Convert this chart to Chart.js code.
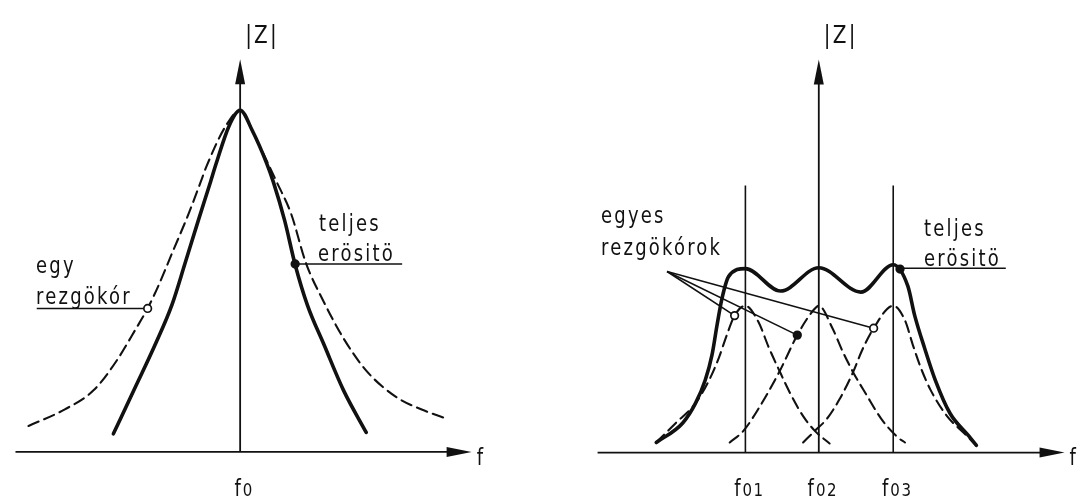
<!DOCTYPE html>
<html>
<head>
<meta charset="utf-8">
<script src="https://cdn.jsdelivr.net/npm/chart.js@4.4.1/dist/chart.umd.min.js"></script>
<style>
  html, body { margin: 0; padding: 0; background: #fff; }
  #wrap { position: relative; width: 1078px; height: 499px; overflow: hidden; }
  canvas { position: absolute; top: 0; }
</style>
</head>
<body>
<div id="wrap">
  <canvas id="leftChart" width="540" height="499" style="left:0"></canvas>
  <canvas id="rightChart" width="538" height="499" style="left:540px"></canvas>
</div>
<script>
// ---- bal oldal: egy rezgőkör vs. teljes erősítő (x: f - f0, y: |Z| / |Z|max)
const leftSolidX = [-1.295, -1.062, -0.862, -0.695, -0.562, -0.428, -0.302, -0.245, -0.112, 0, 0.125, 0.272, 0.338, 0.455, 0.562, 0.688, 0.855, 1.055, 1.288];
const leftSolidY = [0.053, 0.195, 0.318, 0.432, 0.553, 0.677, 0.791, 0.844, 0.955, 1.0, 0.940, 0.844, 0.791, 0.677, 0.548, 0.429, 0.315, 0.181, 0.057];
const leftDashX = [-2.162, -1.795, -1.495, -1.262, -1.062, -0.945, -0.828, -0.695, -0.528, -0.402, -0.345, -0.145, 0, 0.145, 0.372, 0.522, 0.672, 0.855, 1.055, 1.288, 1.588, 1.855, 2.122];
const leftDashY = [0.076, 0.124, 0.181, 0.267, 0.362, 0.420, 0.491, 0.582, 0.696, 0.791, 0.835, 0.955, 1.0, 0.926, 0.791, 0.696, 0.553, 0.439, 0.333, 0.238, 0.162, 0.124, 0.096];
const leftTicks = [0];
const leftTickLabels = ['f0'];

// ---- jobb oldal: három elhangolt rezgőkör (f01, f02, f03)
const rightSolidX = [-2.199, -1.841, -1.669, -1.536, -1.444, -1.377, -1.311, -1.219, -0.993, -0.517, 0, 0.570, 1.007, 1.205, 1.298, 1.430, 1.576, 1.775, 2.026, 2.132];
const rightSolidY = [0.069, 0.202, 0.335, 0.494, 0.667, 0.867, 1.047, 1.200, 1.253, 1.100, 1.259, 1.093, 1.279, 1.133, 0.933, 0.714, 0.494, 0.268, 0.115, 0.049];
const dash1X = [-2.199, -1.934, -1.669, -1.483, -1.351, -1.245, -1.139, -0.993, -0.821, -0.675, -0.530, -0.384, -0.212, -0.053, 0.146];
const dash1Y = [0.069, 0.202, 0.335, 0.494, 0.647, 0.800, 0.933, 1.0, 0.894, 0.714, 0.554, 0.401, 0.248, 0.148, 0.062];
const dash2X = [-1.205, -1.020, -0.821, -0.530, -0.291, -0.079, 0, 0.185, 0.318, 0.464, 0.636, 0.848, 1.073, 1.166];
const dash2Y = [0.069, 0.148, 0.295, 0.554, 0.800, 0.966, 1.0, 0.847, 0.694, 0.548, 0.401, 0.228, 0.102, 0.069];
const dash3X = [-0.212, -0.053, 0.106, 0.278, 0.464, 0.583, 0.742, 1.007, 1.166, 1.272, 1.377, 1.510, 1.735, 1.960, 2.132];
const dash3Y = [0.069, 0.148, 0.228, 0.361, 0.548, 0.694, 0.847, 1.0, 0.900, 0.734, 0.582, 0.429, 0.248, 0.135, 0.049];
const rightTicks = [-0.993, 0, 1.007];
const rightTickLabels = ['f01', 'f02', 'f03'];

const INK = '#111';

function pts(xs, ys) {
    return xs.map((x, i) => ({ x: x, y: ys[i] }));
}

function curve(data, dashed) {
    return {
        data: data,
        borderColor: INK,
        borderWidth: dashed ? 2.1 : 3.6,
        borderDash: dashed ? [11, 6] : [],
        borderCapStyle: 'round',
        borderJoinStyle: 'round',
        cubicInterpolationMode: 'monotone',
        pointRadius: 0,
        fill: false,
        order: 2
    };
}

function leader(from, to) {
    return {
        data: [from, to],
        borderColor: INK,
        borderWidth: 1.6,
        tension: 0,
        pointRadius: 0,
        fill: false,
        order: 1
    };
}

function marker(p, filled) {
    return {
        data: [p],
        showLine: false,
        pointRadius: 3.8,
        pointBackgroundColor: filled ? INK : '#fff',
        pointBorderColor: INK,
        pointBorderWidth: 1.7,
        order: 0
    };
}

// szöveg: műszaki betű, kissé megnyújtva
function drawText(ctx, str, x, y, size, align) {
    ctx.save();
    ctx.font = size + 'px "DejaVu Sans"';
    ctx.letterSpacing = '2.2px';
    ctx.fillStyle = INK;
    ctx.textAlign = align || 'left';
    ctx.textBaseline = 'alphabetic';
    ctx.translate(x, y);
    ctx.scale(1, 1.25);
    ctx.fillText(str, 0, 0);
    ctx.restore();
}

// "f01" -> f + kisebb számjegyek
function drawFreq(ctx, str, cx, y) {
    ctx.save();
    ctx.font = '18px "DejaVu Sans"';
    const wf = ctx.measureText('f').width + 2;
    ctx.font = '15px "DejaVu Sans"';
    ctx.letterSpacing = '1.5px';
    const wd = ctx.measureText(str.slice(1)).width;
    ctx.restore();
    const x0 = cx - (wf + wd) / 2;
    drawText(ctx, 'f', x0, y, 18);
    ctx.save();
    ctx.font = '15px "DejaVu Sans"';
    ctx.letterSpacing = '1.5px';
    ctx.fillStyle = INK;
    ctx.translate(x0 + wf, y);
    ctx.scale(1, 1.2);
    ctx.fillText(str.slice(1), 0, 0);
    ctx.restore();
}

function arrow(ctx, x1, y1, x2, y2) {
    const len = 25, half = 5;
    const a = Math.atan2(y2 - y1, x2 - x1);
    ctx.beginPath();
    ctx.moveTo(x1, y1);
    ctx.lineTo(x2 - Math.cos(a) * len * 0.8, y2 - Math.sin(a) * len * 0.8);
    ctx.stroke();
    ctx.beginPath();
    ctx.moveTo(x2, y2);
    ctx.lineTo(x2 - Math.cos(a) * len - Math.sin(a) * half, y2 - Math.sin(a) * len + Math.cos(a) * half);
    ctx.lineTo(x2 - Math.cos(a) * len + Math.sin(a) * half, y2 - Math.sin(a) * len - Math.cos(a) * half);
    ctx.closePath();
    ctx.fill();
}

const sketchPlugin = {
    id: 'sketch',
    beforeDatasetsDraw(chart, args, opts) {
        const ctx = chart.ctx;
        const xs = chart.scales.x, ys = chart.scales.y;
        ctx.save();
        ctx.strokeStyle = INK;
        ctx.fillStyle = INK;
        ctx.lineWidth = 1.8;
        // f tengely
        arrow(ctx, xs.getPixelForValue(opts.xFrom), ys.getPixelForValue(0),
            xs.getPixelForValue(opts.xTo), ys.getPixelForValue(0));
        // |Z| tengely
        arrow(ctx, xs.getPixelForValue(0), ys.getPixelForValue(0),
            xs.getPixelForValue(0), ys.getPixelForValue(opts.yTo));
        // rezonancia-frekvenciák függőleges vonalai
        ctx.lineWidth = 1.6;
        (opts.vlines || []).forEach(v => {
            const px = xs.getPixelForValue(v);
            ctx.beginPath();
            ctx.moveTo(px, ys.getPixelForValue(0));
            ctx.lineTo(px, ys.getPixelForValue(opts.vlineTop));
            ctx.stroke();
        });
        ctx.restore();
    },
    afterDatasetsDraw(chart, args, opts) {
        const ctx = chart.ctx;
        const xs = chart.scales.x;
        const x0 = xs.getPixelForValue(0);
        drawText(ctx, '|Z|', x0 + 5, 43, 20);
        drawText(ctx, 'f', xs.getPixelForValue(opts.xTo) + 5, 465, 18);
        opts.ticks.forEach((t, i) => {
            drawFreq(ctx, opts.tickLabels[i], xs.getPixelForValue(t) + 4, 496);
        });
        opts.texts.forEach(t => drawText(ctx, t.s, t.x, t.y, 18));
    }
};

Chart.defaults.font.family = '"DejaVu Sans"';

function makeChart(id, datasets, xMin, xMax, yMin, yMax, sketch) {
    return new Chart(document.getElementById(id), {
        type: 'line',
        data: { datasets: datasets },
        options: {
            responsive: false,
            animation: false,
            devicePixelRatio: 1,
            layout: { padding: 0 },
            scales: {
                x: { type: 'linear', min: xMin, max: xMax, display: false },
                y: { type: 'linear', min: yMin, max: yMax, display: false }
            },
            plugins: {
                legend: { display: false },
                tooltip: { enabled: false },
                sketch: sketch
            }
        },
        plugins: [sketchPlugin]
    });
}

// bal diagram
makeChart('leftChart', [
    marker({ x: -0.945, y: 0.420 }, false),
    marker({ x: 0.562, y: 0.550 }, true),
    leader({ x: -2.078, y: 0.420 }, { x: -0.945, y: 0.420 }),
    leader({ x: 0.562, y: 0.550 }, { x: 1.655, y: 0.550 }),
    curve(pts(leftSolidX, leftSolidY), false),
    curve(pts(leftDashX, leftDashY), true)
], -2.395, 3.005, -0.121, 1.306, {
    xFrom: -2.295, xTo: 2.365, yTo: 1.149,
    ticks: leftTicks, tickLabels: leftTickLabels,
    texts: [
        { s: 'egy', x: 36, y: 273 },
        { s: 'rezgökór', x: 36, y: 304 },
        { s: 'teljes', x: 319, y: 231 },
        { s: 'erösitö', x: 318, y: 261 }
    ]
});

// jobb diagram
const fanStart = { x: -2.053, y: 1.233 };
makeChart('rightChart', [
    marker({ x: -1.139, y: 0.933 }, false),
    marker({ x: -0.291, y: 0.800 }, true),
    marker({ x: 0.742, y: 0.847 }, false),
    marker({ x: 1.099, y: 1.250 }, true),
    leader(fanStart, { x: -1.139, y: 0.933 }),
    leader(fanStart, { x: -0.291, y: 0.800 }),
    leader(fanStart, { x: 0.742, y: 0.847 }),
    leader({ x: 1.099, y: 1.255 }, { x: 2.530, y: 1.255 }),
    curve(pts(rightSolidX, rightSolidY), false),
    curve(pts(dash1X, dash1Y), true),
    curve(pts(dash2X, dash2Y), true),
    curve(pts(dash3X, dash3Y), true)
], -3.695, 3.430, -0.277, 3.043, {
    xFrom: -2.993, xTo: 3.325, yTo: 2.677,
    vlines: [rightTicks[0], rightTicks[2]], vlineTop: 1.818,
    ticks: rightTicks, tickLabels: rightTickLabels,
    texts: [
        { s: 'egyes', x: 61, y: 223 },
        { s: 'rezgökórok', x: 61, y: 255 },
        { s: 'teljes', x: 384, y: 236 },
        { s: 'erösitö', x: 384, y: 266 }
    ]
});
</script>
</body>
</html>
